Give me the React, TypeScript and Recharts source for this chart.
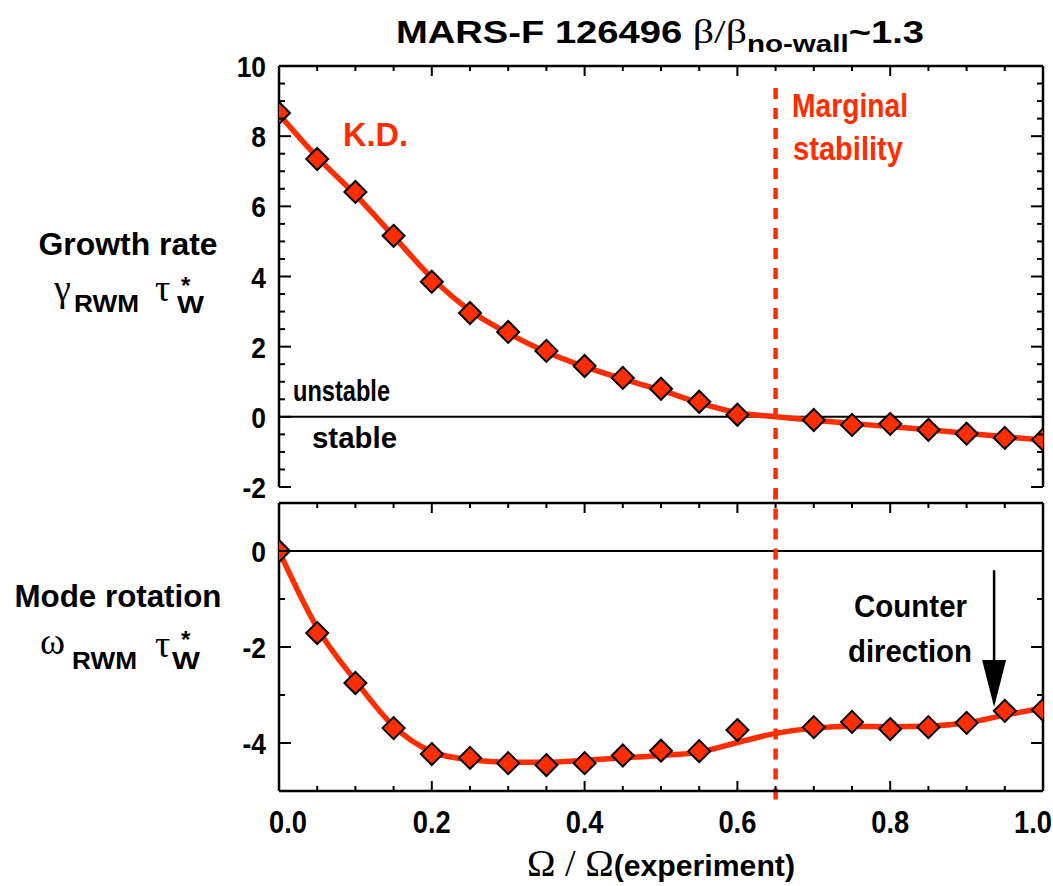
import { ComposedChart, Line, Scatter, XAxis, YAxis, ReferenceLine } from "recharts";

// scan points (0.65 not computed, the fit passes through it)
const OMEGA = [0, 0.05, 0.1, 0.15, 0.2, 0.25, 0.3, 0.35, 0.4, 0.45, 0.5, 0.55, 0.6, 0.7, 0.75, 0.8, 0.85, 0.9, 0.95, 1.0];
const GROWTH = [8.66, 7.35, 6.41, 5.16, 3.85, 2.96, 2.42, 1.88, 1.45, 1.11, 0.8, 0.43, 0.06, -0.09, -0.23, -0.2, -0.37, -0.48, -0.6, -0.65];
const ROTATION = [0, -1.71, -2.75, -3.69, -4.23, -4.31, -4.42, -4.46, -4.42, -4.26, -4.16, -4.17, -3.73, -3.67, -3.56, -3.71, -3.67, -3.58, -3.33, -3.31];

// smooth fit curves
const FIT_X = [0, 0.05, 0.1, 0.15, 0.2, 0.25, 0.3, 0.35, 0.4, 0.45, 0.5, 0.55, 0.6, 0.65, 0.7, 0.75, 0.8, 0.85, 0.9, 0.95, 1.0];
const GROWTH_FIT = [8.62, 7.4, 6.33, 5.15, 3.96, 3.03, 2.38, 1.85, 1.43, 1.08, 0.76, 0.4, 0.12, 0.0, -0.1, -0.19, -0.28, -0.37, -0.47, -0.57, -0.66];
const ROTATION_FIT = [0, -1.6, -2.7, -3.65, -4.18, -4.35, -4.4, -4.4, -4.36, -4.31, -4.26, -4.19, -3.99, -3.8, -3.69, -3.65, -3.66, -3.65, -3.58, -3.42, -3.27];

const X_TICKS = [0, 0.05, 0.1, 0.15, 0.2, 0.25, 0.3, 0.35, 0.4, 0.45, 0.5, 0.55, 0.6, 0.65, 0.7, 0.75, 0.8, 0.85, 0.9, 0.95, 1.0];
const TOP_Y_TICKS = [-2, -1.5, -1, -0.5, 0, 0.5, 1, 1.5, 2, 2.5, 3, 3.5, 4, 4.5, 5, 5.5, 6, 6.5, 7, 7.5, 8, 8.5, 9, 9.5, 10];
const BOT_Y_TICKS = [-5, -4, -3, -2, -1, 0, 1];

const MARGINAL = 0.65;

const RED = "#ff2d00";
const FONT = "'Liberation Sans', Arial, sans-serif";
const SERIF = "'Liberation Serif', 'DejaVu Serif', serif";

const growthPts = OMEGA.map((x, i) => ({ x, y: GROWTH[i] }));
const rotationPts = OMEGA.map((x, i) => ({ x, y: ROTATION[i] }));
const growthFit = FIT_X.map((x, i) => ({ x, y: GROWTH_FIT[i] }));
const rotationFit = FIT_X.map((x, i) => ({ x, y: ROTATION_FIT[i] }));

const isMultiple = (v: number, step: number) => Math.abs(v / step - Math.round(v / step)) < 1e-6;

// rough width of a numeric label, squeezed like the narrow font of the original
const numWidth = (s: string, size: number) =>
  s.split("").reduce((w, c) => w + (c === "." ? 0.278 : c === "-" ? 0.333 : 0.556), 0) * size * 0.88;

const Diamond = (props: any) => {
  const { cx, cy } = props;
  const r = 11;
  return (
    <polygon
      points={`${cx},${cy - r} ${cx + r},${cy} ${cx},${cy + r} ${cx - r},${cy}`}
      fill={RED}
      stroke="#000"
      strokeWidth={2}
    />
  );
};

const XTick = (props: any) => {
  const { x, y, payload, side, showLabel } = props;
  const v = payload.value;
  const major = isMultiple(v, 0.2);
  const len = major ? 10 : 5;
  const dir = side === "top" ? 1 : -1;
  const dx = v === 0 ? 9 : v === 1 ? -10 : 0;
  const label = v.toFixed(1);
  return (
    <g>
      <line x1={x} x2={x} y1={y} y2={y + dir * len} stroke="#000" strokeWidth={2} />
      {showLabel && major && (
        <text
          x={x + dx}
          y={y + 42}
          textAnchor="middle"
          fontFamily={FONT}
          fontWeight="bold"
          fontSize={31}
          textLength={numWidth(label, 31)}
          lengthAdjust="spacingAndGlyphs"
          fill="#000"
        >
          {label}
        </text>
      )}
    </g>
  );
};

const YTick = (props: any) => {
  const { x, y, payload, side, step } = props;
  const v = payload.value;
  const major = isMultiple(v, step);
  const len = major ? 12 : 6;
  const dir = side === "left" ? 1 : -1;
  const label = String(v);
  return (
    <g>
      <line x1={x} x2={x + dir * len} y1={y} y2={y} stroke="#000" strokeWidth={2} />
      {side === "left" && major && (
        <text
          x={x - 13}
          y={y + 11}
          textAnchor="end"
          fontFamily={FONT}
          fontWeight="bold"
          fontSize={30}
          textLength={numWidth(label, 30)}
          lengthAdjust="spacingAndGlyphs"
          fill="#000"
        >
          {label}
        </text>
      )}
    </g>
  );
};

const Arrow = (props: any) => {
  const { x1, y1, y2 } = props;
  const top = Math.min(y1, y2);
  const tip = Math.max(y1, y2);
  return (
    <g>
      <line x1={x1} x2={x1} y1={top} y2={tip - 30} stroke="#000" strokeWidth={2.5} />
      <polygon points={`${x1 - 12},${tip - 47} ${x1 + 12},${tip - 47} ${x1},${tip}`} fill="#000" />
    </g>
  );
};

// text squeezed to the width measured on the original
const T = (props: any) => {
  const { x, y, w, size, bold = true, color = "#000", anchor = "start", family = FONT, children } = props;
  return (
    <text
      x={x}
      y={y}
      textAnchor={anchor}
      fontFamily={family}
      fontWeight={bold ? "bold" : "normal"}
      fontSize={size}
      fill={color}
      textLength={w}
      lengthAdjust={w ? "spacingAndGlyphs" : undefined}
    >
      {children}
    </text>
  );
};

const axisLine = { stroke: "#000", strokeWidth: 2.5 };

export default function App() {
  const axes = (domain: number[], yTicks: number[], bottomHeight: number, showLabels: boolean) => [
    <XAxis
      key="xb"
      dataKey="x"
      type="number"
      domain={[0, 1]}
      ticks={X_TICKS}
      allowDataOverflow
      height={bottomHeight}
      tickSize={0}
      tickMargin={0}
      axisLine={axisLine}
      tickLine={false}
      interval={0}
      tick={(p: any) => <XTick {...p} side="bottom" showLabel={showLabels} />}
    />,
    <XAxis
      key="xt"
      xAxisId="t"
      dataKey="x"
      orientation="top"
      type="number"
      domain={[0, 1]}
      ticks={X_TICKS}
      allowDataOverflow
      height={1}
      tickSize={0}
      tickMargin={0}
      axisLine={axisLine}
      tickLine={false}
      interval={0}
      tick={(p: any) => <XTick {...p} side="top" />}
    />,
    <YAxis
      key="yl"
      type="number"
      domain={domain}
      ticks={yTicks}
      allowDataOverflow
      width={279}
      tickSize={0}
      tickMargin={0}
      axisLine={axisLine}
      tickLine={false}
      interval={0}
      tick={(p: any) => <YTick {...p} side="left" step={2} />}
    />,
    <YAxis
      key="yr"
      yAxisId="r"
      orientation="right"
      type="number"
      domain={domain}
      ticks={yTicks}
      allowDataOverflow
      width={1}
      tickSize={0}
      tickMargin={0}
      axisLine={axisLine}
      tickLine={false}
      interval={0}
      tick={(p: any) => <YTick {...p} side="right" step={2} />}
    />,
  ];

  return (
    <div style={{ position: "absolute", left: 0, top: 0, width: 1053, height: 886, background: "#fff" }}>
      <div style={{ position: "absolute", left: 0, top: 0 }}>
        <ComposedChart width={1053} height={510} margin={{ top: 65, right: 9, bottom: 23, left: 0 }}>
          {axes([-2, 10], TOP_Y_TICKS, 0, false)}
          <ReferenceLine y={0} stroke="#000" strokeWidth={2} />
          <ReferenceLine
            segment={[{ x: MARGINAL, y: 9.37 }, { x: MARGINAL, y: -2.4 }]}
            ifOverflow="visible"
            stroke={RED}
            strokeWidth={4.5}
            strokeDasharray="11 9"
          />
          <Line data={growthFit} dataKey="y" type="monotone" stroke={RED} strokeWidth={5.5} dot={false} isAnimationActive={false} />
          <Scatter data={growthPts} dataKey="y" xAxisId="t" yAxisId="r" shape={Diamond} isAnimationActive={false} />
        </ComposedChart>
      </div>
      <div style={{ position: "absolute", left: 0, top: 490 }}>
        <ComposedChart width={1053} height={396} margin={{ top: 12, right: 9, bottom: 0, left: 0 }}>
          {axes([-5, 1], BOT_Y_TICKS, 95, true)}
          <ReferenceLine y={0} stroke="#000" strokeWidth={2} />
          <ReferenceLine
            segment={[{ x: MARGINAL, y: 1.3 }, { x: MARGINAL, y: -5.2 }]}
            ifOverflow="visible"
            stroke={RED}
            strokeWidth={4.5}
            strokeDasharray="11 9"
          />
          <ReferenceLine
            segment={[{ x: 0.936, y: -0.4 }, { x: 0.936, y: -3.25 }]}
            ifOverflow="visible"
            shape={Arrow}
          />
          <Line data={rotationFit} dataKey="y" type="monotone" stroke={RED} strokeWidth={5.5} dot={false} isAnimationActive={false} />
          <Scatter data={rotationPts} dataKey="y" xAxisId="t" yAxisId="r" shape={Diamond} isAnimationActive={false} />
        </ComposedChart>
      </div>
      <svg width={1053} height={886} style={{ position: "absolute", left: 0, top: 0, pointerEvents: "none" }}>
        <text
          x={660}
          y={43}
          textAnchor="middle"
          fontFamily={FONT}
          fontWeight="bold"
          fontSize={31}
          fill="#000"
          textLength={528}
          lengthAdjust="spacingAndGlyphs"
        >
          MARS-F 126496{" "}
          <tspan fontFamily={SERIF} fontWeight="normal" fontSize={34}>β/β</tspan>
          <tspan dy={9} fontSize={24}>no-wall</tspan>
          <tspan dy={-9}>~1.3</tspan>
        </text>

        <T x={128} y={255} w={179} size={32} anchor="middle">Growth rate</T>
        <T x={54} y={301} size={38} bold={false} family={SERIF}>γ</T>
        <T x={74} y={312} w={65} size={24}>RWM</T>
        <T x={155} y={301} size={38} bold={false} family={SERIF}>τ</T>
        <T x={181} y={294} size={24}>*</T>
        <T x={177} y={313} w={27} size={24}>W</T>

        <T x={118} y={607} w={207} size={32} anchor="middle">Mode rotation</T>
        <T x={40} y={654} size={38} bold={false} family={SERIF}>ω</T>
        <T x={72} y={669} w={65} size={24}>RWM</T>
        <T x={155} y={657} size={38} bold={false} family={SERIF}>τ</T>
        <T x={181} y={648} size={24}>*</T>
        <T x={172} y={669} w={28} size={24}>W</T>

        <T x={343} y={146} w={65} size={34} color={RED}>K.D.</T>
        <T x={792} y={117} w={116} size={33} color={RED}>Marginal</T>
        <T x={793} y={160} w={110} size={33} color={RED}>stability</T>
        <T x={293} y={401} w={97} size={30}>unstable</T>
        <T x={312} y={448} w={85} size={30}>stable</T>
        <T x={854} y={617} w={113} size={32}>Counter</T>
        <T x={848} y={662} w={124} size={32}>direction</T>

        <text
          x={527}
          y={876}
          fontFamily={FONT}
          fontWeight="bold"
          fontSize={30}
          fill="#000"
          textLength={268}
          lengthAdjust="spacingAndGlyphs"
        >
          <tspan fontFamily={SERIF} fontWeight="normal" fontSize={38}>Ω / Ω</tspan>(experiment)
        </text>
      </svg>
    </div>
  );
}
